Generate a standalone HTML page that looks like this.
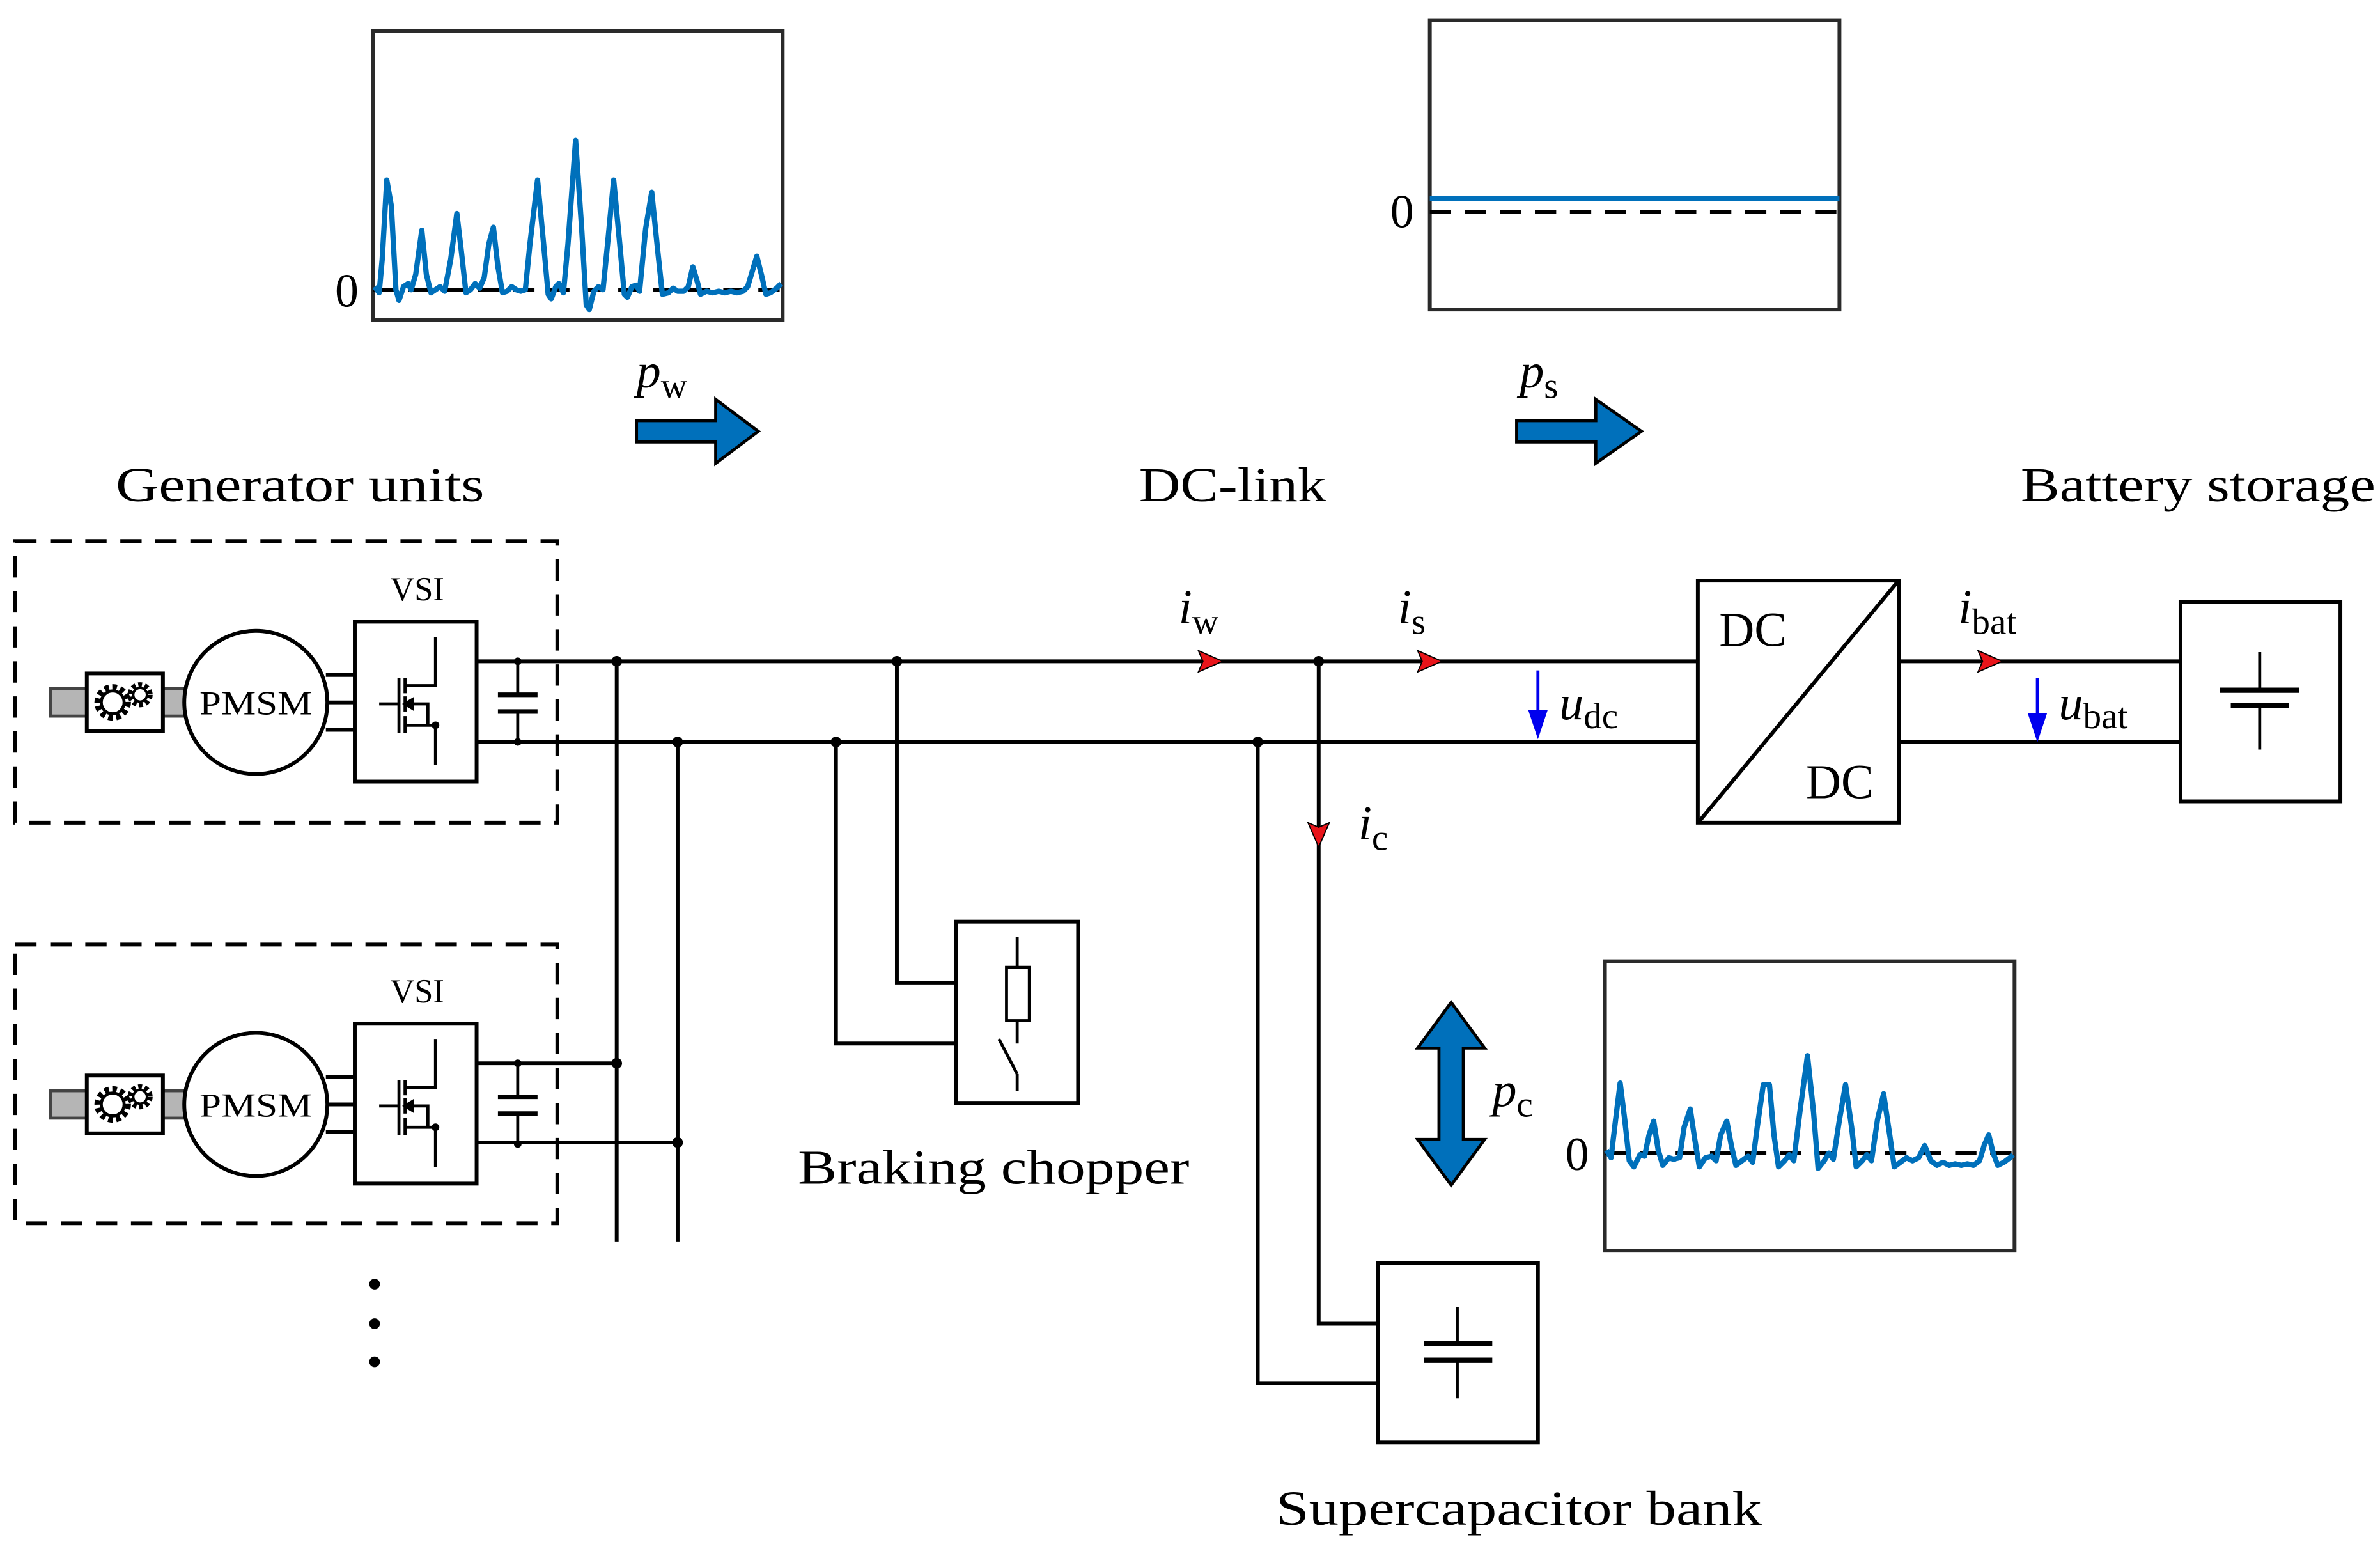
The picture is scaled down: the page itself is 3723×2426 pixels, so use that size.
<!DOCTYPE html>
<html><head><meta charset="utf-8"><style>
html,body{margin:0;padding:0;background:#fff;}
svg{display:block;}
text{font-family:"Liberation Serif",serif;fill:#000;}
.it{font-style:italic;}
</style></head><body>
<svg width="3723" height="2426" viewBox="0 0 1563 1018" xmlns="http://www.w3.org/2000/svg">
<g fill="none" stroke="#000" stroke-width="2.5">
<rect x="245" y="20" width="269" height="190" stroke="#2a2a2a"/>
<rect x="939" y="13" width="269" height="190" stroke="#2a2a2a"/>
<rect x="1054" y="631" width="269" height="190" stroke="#2a2a2a"/>
<line x1="245" y1="190" x2="514" y2="190" stroke-dasharray="14,9"/>
<line x1="939" y1="139" x2="1208" y2="139" stroke-dasharray="14,9"/>
<line x1="1054" y1="757" x2="1323" y2="757" stroke-dasharray="14,9"/>
</g>
<g fill="none" stroke="#0070bb" stroke-width="3.5" stroke-linejoin="round">
<path d="M246,188 L249,192 L251,170 L254,118 L257,135 L260,190 L262,197 L265,188 L268,186 L270,190 L273,180 L277,151 L280,180 L283,192 L286,190 L289,188 L292,191 L296,170 L300,140 L303,165 L306,192 L309,190 L312,186 L315,189 L318,182 L321,160 L324,149 L327,175 L330,192 L333,191 L336,188 L339,190 L342,191 L345,190 L348,160 L353,118 L357,160 L360,193 L362,196 L365,188 L367,186 L370,192 L373,160 L378,92 L382,150 L385,200 L387,203 L390,191 L393,188 L396,190 L399,160 L403,118 L407,160 L410,193 L412,195 L415,188 L418,187 L420,191 L424,150 L428,126 L432,165 L435,193 L439,192 L442,189 L445,191 L449,191 L452,188 L455,175 L458,185 L460,193 L464,191 L468,192 L472,191 L476,192 L480,191 L484,192 L488,191 L491,188 L494,178 L497,168 L500,180 L503,193 L506,192 L510,189 L513,186"/>
<line x1="939" y1="130" x2="1208" y2="130"/>
<path d="M1055,755 L1058,760 L1061,735 L1064,711 L1067,735 L1070,762 L1073,766 L1077,758 L1080,759 L1083,745 L1086,736 L1089,755 L1092,765 L1096,760 L1099,761 L1103,760 L1106,740 L1110,728 L1113,748 L1116,766 L1120,760 L1124,759 L1127,762 L1130,745 L1134,736 L1137,752 L1140,765 L1144,762 L1148,759 L1151,763 L1154,740 L1158,712 L1162,712 L1165,745 L1168,766 L1172,762 L1175,758 L1178,762 L1182,730 L1187,693 L1191,730 L1194,767 L1198,762 L1201,757 L1204,761 L1208,735 L1212,712 L1216,740 L1219,766 L1223,762 L1226,758 L1229,762 L1233,735 L1237,718 L1241,745 L1244,766 L1248,763 L1252,760 L1256,762 L1260,760 L1264,752 L1268,762 L1272,765 L1276,763 L1280,765 L1284,764 L1288,765 L1292,764 L1296,765 L1300,762 L1303,752 L1306,745 L1309,757 L1312,765 L1316,763 L1320,760 L1322,758"/>
</g>
<text x="220" y="201" font-size="31">0</text>
<text x="913" y="149" font-size="31">0</text>
<text x="1028" y="768" font-size="31">0</text>
<g fill="#0070bb" stroke="#000" stroke-width="2">
<path d="M418,276 L470,276 L470,262 L498,283 L470,304 L470,290 L418,290 Z"/>
<path d="M996,276 L1048,276 L1048,262 L1078,283 L1048,304 L1048,290 L996,290 Z"/>
<path d="M953,658 L975,688 L961,688 L961,748 L975,748 L953,778 L931,748 L945,748 L945,688 L931,688 Z"/>
</g>
<text x="418" y="254" font-size="32" class="it">p<tspan font-size="24" dy="7" font-style="normal">w</tspan></text>
<text x="998" y="254" font-size="32" class="it">p<tspan font-size="24" dy="7" font-style="normal">s</tspan></text>
<text x="980" y="726" font-size="32" class="it">p<tspan font-size="24" dy="7" font-style="normal">c</tspan></text>
<text x="76" y="329" font-size="32" textLength="242" lengthAdjust="spacingAndGlyphs">Generator units</text>
<text x="748" y="329" font-size="32" textLength="123" lengthAdjust="spacingAndGlyphs">DC-link</text>
<text x="1327" y="329" font-size="32" textLength="233" lengthAdjust="spacingAndGlyphs">Battery storage</text>
<text x="524" y="777" font-size="32" textLength="257" lengthAdjust="spacingAndGlyphs">Braking chopper</text>
<text x="838" y="1001" font-size="32" textLength="319" lengthAdjust="spacingAndGlyphs">Supercapacitor bank</text>
<g fill="none" stroke="#000" stroke-width="2.5">
<rect x="10" y="355" width="356" height="185" stroke-dasharray="14,9"/>
<rect x="10" y="620" width="356" height="183" stroke-dasharray="14,9"/>
<line x1="313" y1="434" x2="1115" y2="434"/>
<line x1="313" y1="487" x2="1115" y2="487"/>
<line x1="1247" y1="434" x2="1432" y2="434"/>
<line x1="1247" y1="487" x2="1432" y2="487"/>
<line x1="313" y1="698" x2="405" y2="698"/>
<line x1="313" y1="750" x2="445" y2="750"/>
<line x1="405" y1="434" x2="405" y2="815"/>
<line x1="445" y1="487" x2="445" y2="815"/>
<polyline points="589,434 589,645 628,645"/>
<polyline points="549,487 549,685 628,685"/>
<rect x="628" y="605" width="80" height="119"/>
<polyline points="866,434 866,869 905,869"/>
<polyline points="826,487 826,908 905,908"/>
<rect x="905" y="829" width="105" height="118"/>
<rect x="1115" y="381" width="132" height="159"/>
<line x1="1116" y1="539" x2="1246" y2="382"/>
<rect x="1432" y="395" width="105" height="131"/>
</g>
<g stroke="#000" fill="none" stroke-width="2">
<line x1="668" y1="615" x2="668" y2="635"/><rect x="661" y="635" width="15" height="35"/>
<line x1="668" y1="670" x2="668" y2="685"/><line x1="656" y1="682" x2="668" y2="705"/><line x1="668" y1="705" x2="668" y2="716"/>
<line x1="957" y1="858" x2="957" y2="882"/><line x1="957" y1="893" x2="957" y2="918"/>
</g>
<g stroke="#000" stroke-width="3.5">
<line x1="935" y1="882" x2="980" y2="882"/><line x1="935" y1="893" x2="980" y2="893"/>
<line x1="1458" y1="453" x2="1510" y2="453"/><line x1="1465" y1="463" x2="1503" y2="463"/>
</g>
<g stroke="#000" stroke-width="2"><line x1="1484" y1="428" x2="1484" y2="453"/><line x1="1484" y1="463" x2="1484" y2="492"/></g>
<text x="1129" y="424" font-size="32">DC</text>
<text x="1186" y="524" font-size="32">DC</text>
<g fill="#000">
<circle cx="405" cy="434" r="3.5"/><circle cx="445" cy="487" r="3.5"/><circle cx="589" cy="434" r="3.5"/><circle cx="549" cy="487" r="3.5"/><circle cx="866" cy="434" r="3.5"/><circle cx="826" cy="487" r="3.5"/><circle cx="405" cy="698" r="3.5"/><circle cx="445" cy="750" r="3.5"/>
<circle cx="246" cy="843" r="3.5"/><circle cx="246" cy="869" r="3.5"/><circle cx="246" cy="894" r="3.5"/>
</g>
<g fill="#e8141a" stroke="#000" stroke-width="0.8">
<path d="M787,427 L803,434 L787,441 L790,434 Z"/>
<path d="M931,427 L947,434 L931,441 L934,434 Z"/>
<path d="M1299,427 L1315,434 L1299,441 L1302,434 Z"/>
<path d="M859,540 L866,556 L873,540 L866,543 Z"/>
</g>
<text x="774" y="409" font-size="32" class="it">i<tspan font-size="24" dy="7" font-style="normal">w</tspan></text>
<text x="918" y="409" font-size="32" class="it">i<tspan font-size="24" dy="7" font-style="normal">s</tspan></text>
<text x="1286" y="409" font-size="32" class="it">i<tspan font-size="24" dy="7" font-style="normal">bat</tspan></text>
<text x="892" y="551" font-size="32" class="it">i<tspan font-size="24" dy="7" font-style="normal">c</tspan></text>
<g stroke="#0000ee" stroke-width="2" fill="#0000ee">
<line x1="1010" y1="440" x2="1010" y2="468"/><path d="M1005,467 L1010,482 L1015,467 Z"/>
<line x1="1338" y1="445" x2="1338" y2="470"/><path d="M1333,469 L1338,484 L1343,469 Z"/>
</g>
<text x="1024" y="472" font-size="32" class="it">u<tspan font-size="24" dy="6" font-style="normal">dc</tspan></text>
<text x="1352" y="472" font-size="32" class="it">u<tspan font-size="24" dy="6" font-style="normal">bat</tspan></text>
<defs>
<g id="gu">
<rect x="33" y="452" width="24" height="18" fill="#b5b5b5" stroke="#444" stroke-width="2"/>
<rect x="107" y="452" width="15" height="18" fill="#b5b5b5" stroke="#444" stroke-width="2"/>
<rect x="57" y="442" width="50" height="38" fill="#fff" stroke="#000" stroke-width="2.5"/>
<circle cx="74" cy="461" r="10" fill="none" stroke="#000" stroke-width="4" stroke-dasharray="3,2.2"/>
<circle cx="74" cy="461" r="7.5" fill="none" stroke="#000" stroke-width="2"/>
<circle cx="92" cy="456" r="6.5" fill="none" stroke="#000" stroke-width="3.5" stroke-dasharray="2.4,1.8"/>
<circle cx="92" cy="456" r="4.5" fill="none" stroke="#000" stroke-width="1.6"/>
<circle cx="168" cy="461" r="47" fill="#fff" stroke="#000" stroke-width="2.5"/>
<text x="168" y="469" font-size="22" text-anchor="middle" textLength="74" lengthAdjust="spacingAndGlyphs">PMSM</text>
<g stroke="#000" stroke-width="2.5">
<line x1="214" y1="443" x2="233" y2="443"/><line x1="215" y1="461" x2="233" y2="461"/><line x1="214" y1="479" x2="233" y2="479"/>
</g>
<rect x="233" y="408" width="80" height="105" fill="#fff" stroke="#000" stroke-width="2.5"/>
<text x="274" y="394" font-size="22" text-anchor="middle">VSI</text>
<g stroke="#000" stroke-width="2" fill="none">
<line x1="249" y1="462" x2="262" y2="462"/><line x1="262" y1="445" x2="262" y2="481"/>
<line x1="266" y1="445" x2="266" y2="455"/><line x1="266" y1="457" x2="266" y2="467"/><line x1="266" y1="470" x2="266" y2="481"/>
<polyline points="266,450 286,450 286,418"/>
<polyline points="266,476 286,476 286,502"/>
<polyline points="266,462 281,462 281,476"/>
<path d="M266,462 L271,459 L271,465 Z" fill="#000"/>
<line x1="340" y1="434" x2="340" y2="456"/><line x1="340" y1="467" x2="340" y2="487"/>
</g>
<g stroke="#000" stroke-width="3"><line x1="327" y1="456" x2="353" y2="456"/><line x1="327" y1="467" x2="353" y2="467"/></g>
<circle cx="286" cy="476" r="2.5" fill="#000"/>
<circle cx="340" cy="434" r="2.5" fill="#000"/><circle cx="340" cy="487" r="2.5" fill="#000"/>
</g>
</defs>
<use href="#gu"/>
<use href="#gu" transform="translate(0,264)"/>
</svg>
</body></html>
